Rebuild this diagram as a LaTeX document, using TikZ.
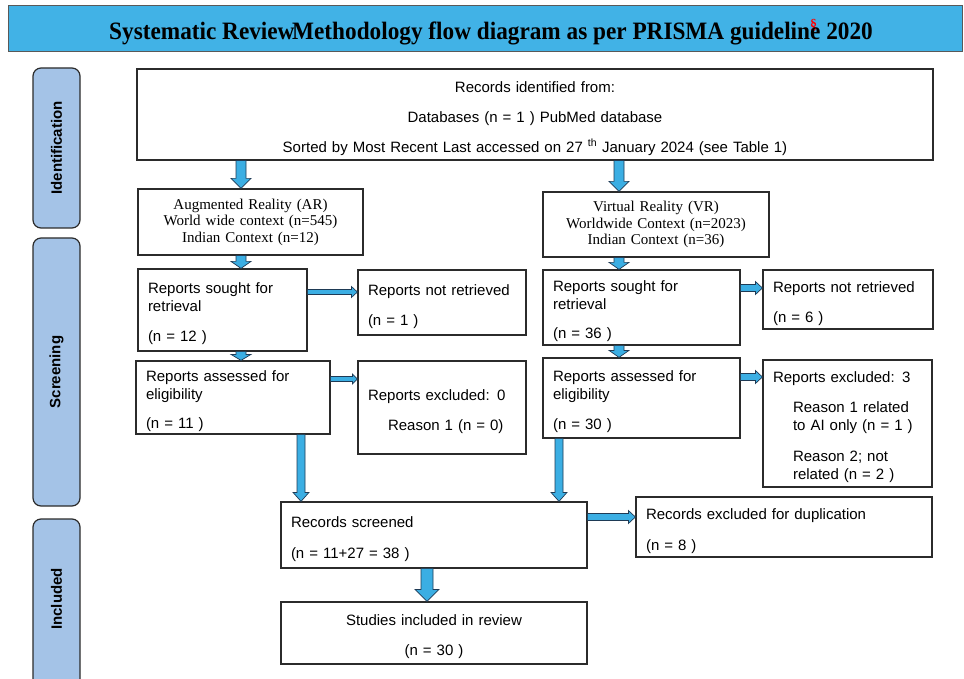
\documentclass[tikz,border=0pt]{standalone}
\usepackage{fontspec}
\setmainfont{Liberation Serif}
\newfontfamily\arialf{Liberation Sans}
\usetikzlibrary{calc}
\definecolor{titleblue}{HTML}{41B2E6}
\definecolor{sideblue}{HTML}{A4C3E7}
\definecolor{arrowblue}{HTML}{3BAEE3}
\definecolor{arrowedge}{HTML}{1E3A55}
\definecolor{boxedge}{HTML}{2B2B2B}
\tikzset{
  flowbox/.style={draw=boxedge, line width=1.2pt, inner ysep=0pt, inner xsep=10pt,
    font=\arialf\fontsize{15}{18}\selectfont},
  leftbox/.style={flowbox, align=left},
  centerbox/.style={flowbox, align=center},
  serifbox/.style={draw=boxedge, line width=1.2pt, inner sep=0pt, align=center,
    font=\fontsize{15}{16.5}\selectfont},
  sidebox/.style={draw=boxedge, line width=1.2pt, fill=sideblue, rounded corners=8pt,
    minimum width=47pt, inner sep=0pt},
  sidetext/.style={rotate=90, font=\arialf\bfseries\fontsize{15}{18}\selectfont},
  blockarrow/.style={draw=arrowedge, fill=arrowblue, line width=0.7pt, line join=miter},
}
\newcommand\topstrut{\rule{0pt}{18.5pt}}
% box from corners: name, x1, y1, x2, y2, style, text
\newcommand\boxat[7]{%
  \node[#6, minimum width={(#4-#2)*1pt}, minimum height={(#5-#3)*1pt},
        text width={(#4-#2-20)*1pt}] (#1) at ({(#2+#4)/2},{(#3+#5)/2}) {#7};}
% vertical block arrow: start, end, half shaft, half head, head length
\newcommand\varr[5]{%
  \path[blockarrow] let \p1=#1, \p2=#2 in
    (\x1-#3pt,\y1) -- (\x1+#3pt,\y1) -- (\x1+#3pt,\y2+#5pt) -- (\x1+#4pt,\y2+#5pt)
    -- (\x1,\y2) -- (\x1-#4pt,\y2+#5pt) -- (\x1-#3pt,\y2+#5pt) -- cycle;}
% horizontal block arrow: start, end, half shaft, half head, head length
\newcommand\harr[5]{%
  \path[blockarrow] let \p1=#1, \p2=#2 in
    (\x1,\y1+#3pt) -- (\x2-#5pt,\y1+#3pt) -- (\x2-#5pt,\y1+#4pt) -- (\x2,\y1)
    -- (\x2-#5pt,\y1-#4pt) -- (\x2-#5pt,\y1-#3pt) -- (\x1,\y1-#3pt) -- cycle;}
\begin{document}
\begin{tikzpicture}[x=1pt,y=-1pt]
\useasboundingbox (0,0) rectangle (964,679);
% title
\node[draw=gray!70!black, line width=1pt, fill=titleblue, minimum width=954pt,
      minimum height=46pt, inner sep=0pt] (titlebar) at (485,29) {};
\node[anchor=base, font=\bfseries\fontsize{25}{28}\selectfont] (titletext) at (491,40)
  {\scalebox{0.93}[1]{Systematic Review\kern-0.1em Methodology flow diagram as per PRISMA guidelin\rlap{\raisebox{0.42em}{\color{red}\fontsize{15}{15}\selectfont\S}}e 2020}};
% side labels
\node[sidebox, minimum height=160pt] (sideid) at (56.5,148) {};
\node[sidetext] (sideidt) at (sideid) {Identification};
\node[sidebox, minimum height=268pt] (sidescr) at (56.5,372) {};
\node[sidetext] (sidescrt) at (sidescr) {Screening};
\node[sidebox, minimum height=170pt] (sideinc) at (56.5,604) {};
\node[sidetext] (sideinct) at (56.5,599) {Included};
% boxes
\boxat{rid}{137}{69}{933}{160}{centerbox}{\topstrut Records identified from:\\[12pt]Databases (n = 1 ) PubMed database\\[12pt]Sorted by Most Recent Last accessed on 27 \textsuperscript{th} January 2024 (see Table 1)}
\boxat{ar}{138}{189}{363}{255}{serifbox}{Augmented Reality (AR)\\World wide context (n=545)\\Indian Context (n=12)}
\boxat{vr}{543}{192}{769}{257}{serifbox}{Virtual Reality (VR)\\Worldwide Context (n=2023)\\Indian Context (n=36)}
\boxat{arsought}{138}{269}{307}{351}{leftbox}{\topstrut Reports sought for\\retrieval\\[12pt](n = 12 )}
\boxat{arnot}{358}{270}{526}{335}{leftbox}{\topstrut Reports not retrieved\\[12pt](n = 1 )}
\boxat{arassess}{136}{361}{330}{434}{leftbox}{\topstrut Reports assessed for\\eligibility\\[11pt](n = 11 )}
\boxat{arexcl}{358}{361}{526}{454}{leftbox}{\topstrut Reports excluded: 0\\[12pt]\hspace*{20pt}Reason 1 (n = 0)}
\boxat{vrsought}{543}{270}{740}{345}{leftbox}{\topstrut Reports sought for\\retrieval\\[11pt](n = 36 )}
\boxat{vrnot}{763}{270}{933}{329}{leftbox}{\topstrut Reports not retrieved\\[12pt](n = 6 )}
\boxat{vrassess}{543}{358}{740}{438}{leftbox}{\topstrut Reports assessed for\\eligibility\\[12pt](n = 30 )}
\boxat{vrexcl}{763}{360}{932}{487}{leftbox}{\topstrut Reports excluded: 3\\[12pt]\hspace*{20pt}Reason 1 related\\\hspace*{20pt}to AI only (n = 1 )\\[13pt]\hspace*{20pt}Reason 2; not\\\hspace*{20pt}related (n = 2 )}
\boxat{screened}{281}{502}{587}{568}{leftbox}{\topstrut Records screened\\[13pt](n = 11+27 = 38 )}
\boxat{dup}{636}{497}{932}{557}{leftbox}{\topstrut Records excluded for duplication\\[13pt](n = 8 )}
\boxat{studies}{281}{602}{587}{664}{centerbox}{\topstrut Studies included in review\\[12pt](n = 30 )}
% arrow guide coordinates
\coordinate (xl) at (241,0);
\coordinate (xr) at (619,0);
\coordinate (xla) at (301,0);
\coordinate (xra) at (559,0);
\coordinate (xc) at (427,0);
\coordinate (ya) at (0,292);
\coordinate (yb) at (0,379);
\coordinate (yc) at (0,288);
\coordinate (yd) at (0,377);
\coordinate (ye) at (0,517);
% arrows
\varr{(rid.south -| xl)}{(ar.north -| xl)}{5}{10}{10}
\varr{(rid.south -| xr)}{(vr.north -| xr)}{5}{10}{10}
\varr{(ar.south -| xl)}{(arsought.north -| xl)}{5}{10}{7}
\varr{(arsought.south -| xl)}{(arassess.north -| xl)}{5}{10}{6}
\varr{(vr.south -| xr)}{(vrsought.north -| xr)}{5}{10}{7}
\varr{(vrsought.south -| xr)}{(vrassess.north -| xr)}{5}{10}{7}
\varr{(arassess.south -| xla)}{(screened.north -| xla)}{4}{8}{9}
\varr{(vrassess.south -| xra)}{(screened.north -| xra)}{4}{8}{9}
\varr{(screened.south -| xc)}{(studies.north -| xc)}{6}{12}{12}
\harr{(arsought.east |- ya)}{(arnot.west |- ya)}{2.5}{5.5}{6}
\harr{(arassess.east |- yb)}{(arexcl.west |- yb)}{2.5}{5}{5}
\harr{(vrsought.east |- yc)}{(vrnot.west |- yc)}{3.5}{6.5}{7}
\harr{(vrassess.east |- yd)}{(vrexcl.west |- yd)}{3.5}{6.5}{7}
\harr{(screened.east |- ye)}{(dup.west |- ye)}{3.5}{6.5}{7}
\end{tikzpicture}
\end{document}
